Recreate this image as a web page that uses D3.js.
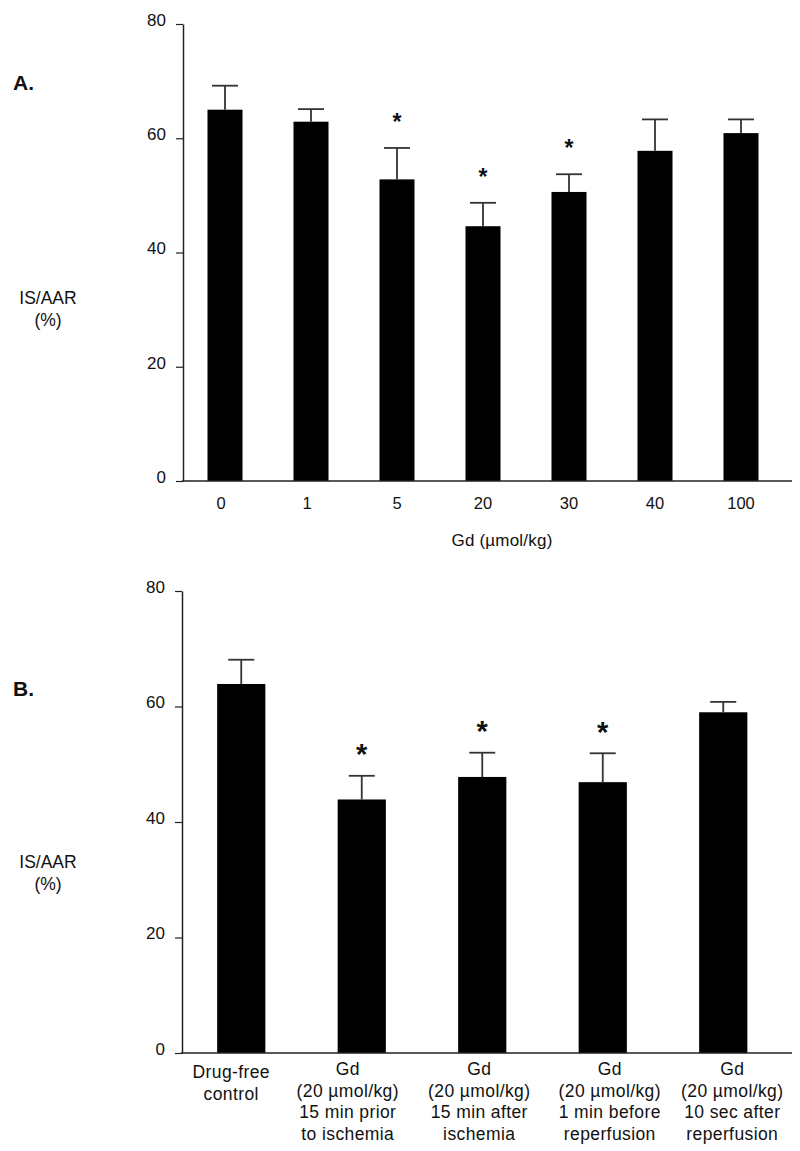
<!DOCTYPE html>
<html><head><meta charset="utf-8">
<script src="https://cdn.jsdelivr.net/npm/d3@7"></script>
<style>body{margin:0;background:#fff}svg text{font-family:"Liberation Sans",Arial,sans-serif;fill:#111}</style>
</head><body><svg id="c" width="800" height="1151"></svg>
<script>
// ---- Data ----
const yTicks = [0, 20, 40, 60, 80];

const doseCategories = ["0", "1", "5", "20", "30", "40", "100"];
const doseMeans = [65.0, 62.9, 52.8, 44.6, 50.6, 57.8, 60.9];
const doseErrors = [4.2, 2.2, 5.5, 4.1, 3.1, 5.5, 2.4];
const doseSignificant = [false, false, true, true, true, false, false];

const timingCategories = [
  ["Drug-free", "control"],
  ["Gd", "(20 µmol/kg)", "15 min prior", "to ischemia"],
  ["Gd", "(20 µmol/kg)", "15 min after", "ischemia"],
  ["Gd", "(20 µmol/kg)", "1 min before", "reperfusion"],
  ["Gd", "(20 µmol/kg)", "10 sec after", "reperfusion"]
];
const timingMeans = [63.9, 43.9, 47.8, 46.9, 59.0];
const timingErrors = [4.2, 4.1, 4.2, 5.0, 1.8];
const timingSignificant = [false, true, true, true, false];

const panelLetters = ["A.", "B."];
const yLabelLines = ["IS/AAR", "(%)"];
const doseAxisTitle = "Gd (µmol/kg)";

// ---- Drawing ----
const svg = d3.select("#c");

function drawPanel(o) {
  const g = svg.append("g");
  const y = d3.scaleLinear().domain([0, 80]).range([o.y0, o.y80]);
  const x = d3.scaleBand().domain(d3.range(o.means.length))
    .range([o.xl, o.xr]).paddingInner(o.pad).paddingOuter(o.pad / 2);

  // y axis
  const ya = g.append("g").attr("transform", `translate(${o.axisX},0)`)
    .call(d3.axisLeft(y).tickValues(yTicks).tickSize(7).tickSizeOuter(0).tickPadding(10));
  ya.select(".domain").attr("stroke", "#222").attr("stroke-width", 1.5);
  ya.selectAll(".tick line").attr("stroke", "#222").attr("stroke-width", 1.2);
  ya.selectAll(".tick text").attr("font-size", 17).attr("dy", "0.08em")
    .style("font-family", '"Liberation Sans",Arial,sans-serif').attr("fill", "#222");

  // bars
  g.selectAll("rect.bar").data(o.means).join("rect").attr("class", "bar")
    .attr("x", (d, i) => x(i)).attr("width", x.bandwidth())
    .attr("y", d => y(d)).attr("height", d => y(0) - y(d)).attr("fill", "#000");

  // error bars
  const cw = 26;
  o.means.forEach((m, i) => {
    const cx = x(i) + x.bandwidth() / 2;
    const top = y(m + o.errs[i]);
    g.append("line").attr("x1", cx).attr("x2", cx).attr("y1", y(m)).attr("y2", top)
      .attr("stroke", "#333").attr("stroke-width", 1.8);
    g.append("line").attr("x1", cx - cw / 2).attr("x2", cx + cw / 2).attr("y1", top).attr("y2", top)
      .attr("stroke", "#333").attr("stroke-width", 1.8);
    if (o.sig[i]) {
      g.append("text").attr("x", cx).attr("y", top - o.starGap + o.starSize * 0.6)
        .attr("text-anchor", "middle").attr("font-size", o.starSize).attr("font-weight", "bold")
        .text("*");
    }
  });

  // x baseline
  g.append("line").attr("x1", o.axisX - 1).attr("x2", o.axisEnd).attr("y1", y(0)).attr("y2", y(0))
    .attr("stroke", "#222").attr("stroke-width", 1.5);

  // panel letter
  g.append("text").attr("x", 13).attr("y", o.letterY).attr("font-size", 21).attr("font-weight", "bold")
    .text(o.letter);

  // y label
  yLabelLines.forEach((t, k) => {
    g.append("text").attr("x", 48).attr("y", o.ylabY + k * 22).attr("text-anchor", "middle")
      .attr("font-size", 17.5).text(t);
  });
  return { x, y, g };
}

// Panel A
const A = drawPanel({
  means: doseMeans, errs: doseErrors, sig: doseSignificant,
  y0: 481, y80: 24, xl: 182, xr: 784, pad: 0.593, axisX: 183, axisEnd: 792,
  starGap: 32, starSize: 23, letter: panelLetters[0], letterY: 90, ylabY: 304
});
A.g.selectAll("text.xt").data(doseCategories).join("text").attr("class", "xt")
  .attr("x", (d, i) => A.x(i) + A.x.bandwidth() / 2 - (i < 2 ? 4 : 0)).attr("y", 509)
  .attr("text-anchor", "middle").attr("font-size", 16.5).text(d => d);
A.g.append("text").attr("x", 502).attr("y", 546).attr("text-anchor", "middle")
  .attr("font-size", 17).attr("letter-spacing", 0.2).text(doseAxisTitle);

// Panel B
const B = drawPanel({
  means: timingMeans, errs: timingErrors, sig: timingSignificant,
  y0: 1053, y80: 591, xl: 181, xr: 783.5, pad: 0.6, axisX: 182, axisEnd: 792,
  starGap: 29, starSize: 29, letter: panelLetters[1], letterY: 696, ylabY: 868
});
const labelShift = [-10, -14, -3, 7, 9];
timingCategories.forEach((lines, i) => {
  const cx = B.x(i) + B.x.bandwidth() / 2 + labelShift[i];
  const t = B.g.append("text").attr("text-anchor", "middle").attr("font-size", 17.5)
    .attr("letter-spacing", 0.4);
  lines.forEach((ln, k) => {
    t.append("tspan").attr("x", cx).attr("y", (i === 0 ? 1078 : 1075) + k * 21.6).text(ln);
  });
});
</script></body></html>
